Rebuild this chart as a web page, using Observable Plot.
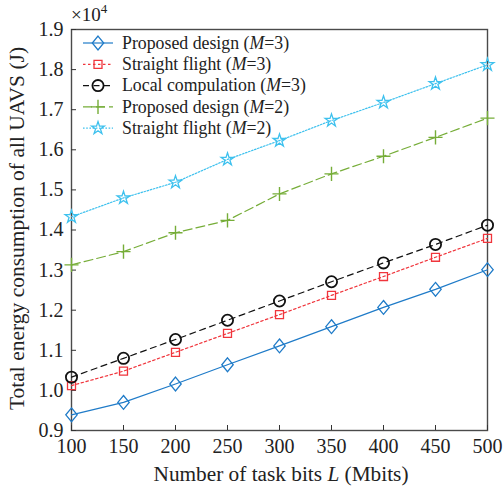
<!DOCTYPE html>
<html>
<head>
<meta charset="utf-8">
<script src="https://cdn.jsdelivr.net/npm/d3@7"></script>
<script src="https://cdn.jsdelivr.net/npm/@observablehq/plot@0.6"></script>
<style>
  body { margin: 0; background: #fff; }
  #chart { position: relative; width: 504px; height: 486px; }
  svg { font-family: "Liberation Serif", "Times New Roman", serif; }
</style>
</head>
<body>
<div id="chart"></div>
<script>
// ---- data ----
const L = [100, 150, 200, 250, 300, 350, 400, 450, 500];
const proposedM3 = [0.939, 0.970, 1.016, 1.064, 1.111, 1.159, 1.207, 1.252, 1.301];
const straightM3 = [1.012, 1.048, 1.095, 1.142, 1.189, 1.237, 1.284, 1.332, 1.379];
const localM3    = [1.033, 1.080, 1.127, 1.175, 1.223, 1.271, 1.318, 1.364, 1.412];
const proposedM2 = [1.313, 1.346, 1.393, 1.424, 1.490, 1.540, 1.584, 1.631, 1.679];
const straightM2 = [1.433, 1.480, 1.519, 1.576, 1.623, 1.673, 1.718, 1.765, 1.812];
const xTicks = [100, 150, 200, 250, 300, 350, 400, 450, 500];
const yTicks = [0.9, 1.0, 1.1, 1.2, 1.3, 1.4, 1.5, 1.6, 1.7, 1.8, 1.9];
const seriesNames = [
  ["Proposed design (", "M", "=3)"],
  ["Straight flight (", "M", "=3)"],
  ["Local compulation (", "M", "=3)"],
  ["Proposed design (", "M", "=2)"],
  ["Straight flight (", "M", "=2)"]
];

// ---- styles ----
const tallDiamond = {
  draw(ctx, size) {
    const r = Math.sqrt(size / Math.PI);
    const w = r * 0.95, h = r * 1.15;
    ctx.moveTo(0, -h); ctx.lineTo(w, 0); ctx.lineTo(0, h); ctx.lineTo(-w, 0); ctx.closePath();
  }
};
const styles = [
  {color: "#1f7bc8", dash: null, symbol: tallDiamond, r: 6, sw: 1.3},
  {color: "#f0353c", dash: "2.5,2.5", symbol: "square", r: 4.5, sw: 1.3},
  {color: "#111111", dash: "6,4.5", symbol: "circle", r: 5.6, sw: 1.8},
  {color: "#76ad38", dash: "9,4", symbol: "plus", r: 4.6, sw: 1.4},
  {color: "#3ec1ee", dash: "1.6,1.6", symbol: "star", r: 4.0, sw: 1.3}
];
const valuesList = [proposedM3, straightM3, localM3, proposedM2, straightM2];

const W = 504, H = 486;
const mL = 71, mR = 17, mT = 29, mB = 56;
const innerW = W - mL - mR, innerH = H - mT - mB;

const marks = [];
valuesList.forEach((vals, i) => {
  const s = styles[i];
  const data = L.map((x, j) => ({x, y: vals[j]}));
  marks.push(Plot.line(data, {x: "x", y: "y", stroke: s.color, strokeWidth: 1.2, strokeDasharray: s.dash}));
});
valuesList.forEach((vals, i) => {
  const s = styles[i];
  const data = L.map((x, j) => ({x, y: vals[j]}));
  marks.push(Plot.dot(data, {x: "x", y: "y", symbol: s.symbol, r: s.r, stroke: s.color, fill: "none", strokeWidth: s.sw}));
});

const plot = Plot.plot({
  width: W, height: H,
  marginLeft: mL, marginRight: mR, marginTop: mT, marginBottom: mB,
  style: {fontFamily: "Liberation Serif, Times New Roman, serif", fontSize: "20px", color: "#222", background: "#fff"},
  x: {domain: [100, 500]},
  y: {domain: [0.9, 1.9]},
  marks: [
    Plot.frame({stroke: "#4a4a4a", strokeWidth: 1.4}),
    Plot.tickX(xTicks, {x: d => d, stroke: "#333", strokeWidth: 1, insetTop: innerH - 5}),
    Plot.tickY(yTicks, {y: d => d, stroke: "#333", strokeWidth: 1, insetRight: innerW - 5}),
    Plot.axisX(xTicks, {tickSize: 0, tickPadding: 8, label: null, fontSize: 20, tickFormat: d => String(d)}),
    Plot.axisY(yTicks, {tickSize: 0, tickPadding: 8, label: null, fontSize: 20, tickFormat: d3.format(".1f")}),
    ...marks
  ]
});

const container = document.getElementById("chart");
container.appendChild(plot);

// ---- annotations: labels, exponent and legend ----
const svg = d3.select(plot);
const font = "Liberation Serif, Times New Roman, serif";

// x label
const xl = svg.append("text")
  .attr("x", mL + innerW / 2 + 2).attr("y", H - 5)
  .attr("text-anchor", "middle").attr("font-family", font).attr("font-size", 21.3).attr("fill", "#222");
xl.append("tspan").text("Number of task bits ");
xl.append("tspan").attr("font-style", "italic").text("L");
xl.append("tspan").text(" (Mbits)");

// y label
svg.append("text")
  .attr("transform", `translate(24,${mT + innerH / 2 - 1}) rotate(-90)`)
  .attr("text-anchor", "middle").attr("font-family", font).attr("font-size", 21.5).attr("fill", "#222")
  .text("Total energy consumption of all UAVS (J)");

// exponent
const ex = svg.append("text")
  .attr("x", mL).attr("y", mT - 8).attr("text-anchor", "start")
  .attr("font-family", font).attr("font-size", 19).attr("fill", "#222");
ex.append("tspan").text("×10");
ex.append("tspan").attr("dy", -8).attr("font-size", 13).text("4");

// legend
const lg = svg.append("g").attr("transform", `translate(${mL + 12},${mT + 14})`);
seriesNames.forEach((parts, i) => {
  const s = styles[i];
  const g = lg.append("g").attr("transform", `translate(0,${i * 21.3})`);
  g.append("line").attr("x1", 0).attr("x2", 30).attr("y1", 0).attr("y2", 0)
    .attr("stroke", s.color).attr("stroke-width", 1.2).attr("stroke-dasharray", s.dash);
  const symType = typeof s.symbol === "string"
    ? {square: d3.symbolSquare, circle: d3.symbolCircle, plus: d3.symbolPlus, star: d3.symbolStar}[s.symbol]
    : s.symbol;
  g.append("path").attr("transform", "translate(15,0)")
    .attr("d", d3.symbol(symType, s.r * s.r * Math.PI)())
    .attr("fill", "none").attr("stroke", s.color).attr("stroke-width", s.sw);
  const t = g.append("text").attr("x", 39).attr("y", 0).attr("dy", "0.33em").attr("text-anchor", "start")
    .attr("font-family", font).attr("font-size", 17.8).attr("fill", "#222");
  t.append("tspan").text(parts[0]);
  t.append("tspan").attr("font-style", "italic").text(parts[1]);
  t.append("tspan").text(parts[2]);
});
</script>
</body>
</html>
